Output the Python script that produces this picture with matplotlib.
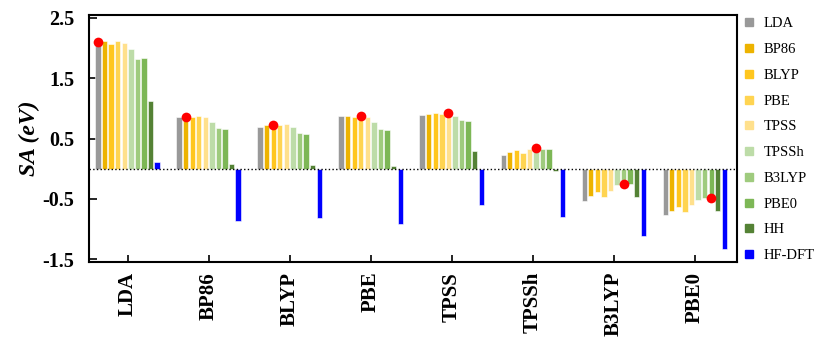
import numpy as np
import matplotlib.pyplot as plt
from matplotlib.lines import Line2D

plt.rcParams['font.family'] = ['Liberation Serif', 'DejaVu Serif']

groups = ["LDA", "BP86", "BLYP", "PBE", "TPSS", "TPSSh", "B3LYP", "PBE0"]
series = ["LDA", "BP86", "BLYP", "PBE", "TPSS", "TPSSh", "B3LYP", "PBE0", "HH", "HF-DFT"]

# values of each series across the 8 groups
lda    = [2.10, 0.86, 0.69, 0.87, 0.89, 0.22, -0.54, -0.77]
bp86   = [2.11, 0.86, 0.73, 0.87, 0.905, 0.28, -0.45, -0.70]
blyp   = [2.07, 0.86, 0.73, 0.86, 0.92, 0.305, -0.39, -0.64]
pbe    = [2.12, 0.87, 0.73, 0.87, 0.90, 0.26, -0.47, -0.72]
tpss   = [2.09, 0.85, 0.74, 0.85, 0.92, 0.32, -0.37, -0.61]
tpssh  = [1.98, 0.78, 0.69, 0.77, 0.88, 0.34, -0.27, -0.52]
b3lyp  = [1.82, 0.67, 0.59, 0.65, 0.80, 0.33, -0.25, -0.48]
pbe0   = [1.83, 0.65, 0.58, 0.64, 0.79, 0.32, -0.25, -0.48]
hh     = [1.13, 0.07, 0.055, 0.04, 0.29, -0.04, -0.47, -0.70]
hf_dft = [0.105, -0.87, -0.82, -0.92, -0.60, -0.81, -1.11, -1.33]

colors = ["#999999", "#edb300", "#ffc61e", "#ffd451", "#ffe08c",
          "#bddca8", "#9fcb7e", "#7db756", "#548235", "#0000ff"]

data = np.array([lda, bp86, blyp, pbe, tpss, tpssh, b3lyp, pbe0, hh, hf_dft])

fig = plt.figure(figsize=(8.3, 3.48), dpi=100)
ax = fig.add_axes([0.107, 0.247, 0.781, 0.71])

x = np.arange(len(groups))
pitch = 0.081
first = 0.114
for j in range(len(series)):
    ax.bar(x + first + pitch * j, data[j], width=0.066, color=colors[j],
           edgecolor="white", linewidth=0.4, zorder=2)

# self-consistent values (diagonal) as red dots
dots = [data[i][i] for i in range(len(groups))]
ax.plot(x + first + pitch * x, dots, "o", color="red", markersize=7,
        markeredgewidth=0, zorder=4)

ax.axhline(0, color="black", linestyle=":", linewidth=1.0, zorder=3)

ax.set_xlim(0, 8)
ax.set_ylim(-1.55, 2.55)
ax.set_yticks([2.5, 1.5, 0.5, -0.5, -1.5])
ax.set_yticklabels(["2.5", "1.5", "0.5", "-0.5", "-1.5"],
                   fontsize=14.5, fontweight="bold")
ax.set_xticks(x + first + pitch * 4.5)
ax.set_xticklabels(groups, rotation=90, fontsize=15, fontweight="bold")
ax.tick_params(axis="y", direction="in", length=6, width=1.2, pad=10.5)
ax.tick_params(axis="x", direction="in", length=5, width=1.2, pad=7)
for s in ax.spines.values():
    s.set_linewidth(1.5)

ax.set_ylabel("SA (eV)", fontsize=17, fontweight="bold", fontstyle="italic",
              labelpad=2)

handles = [Line2D([], [], marker="s", linestyle="none", color=c, markersize=6)
           for c in colors]
fig.legend(handles, series, loc="upper left", bbox_to_anchor=(0.883, 0.98),
           frameon=False, fontsize=10.5, handlelength=0.8, handletextpad=0.6,
           labelspacing=0.86, borderpad=0.2)

fig.savefig("out.png", dpi=100)
